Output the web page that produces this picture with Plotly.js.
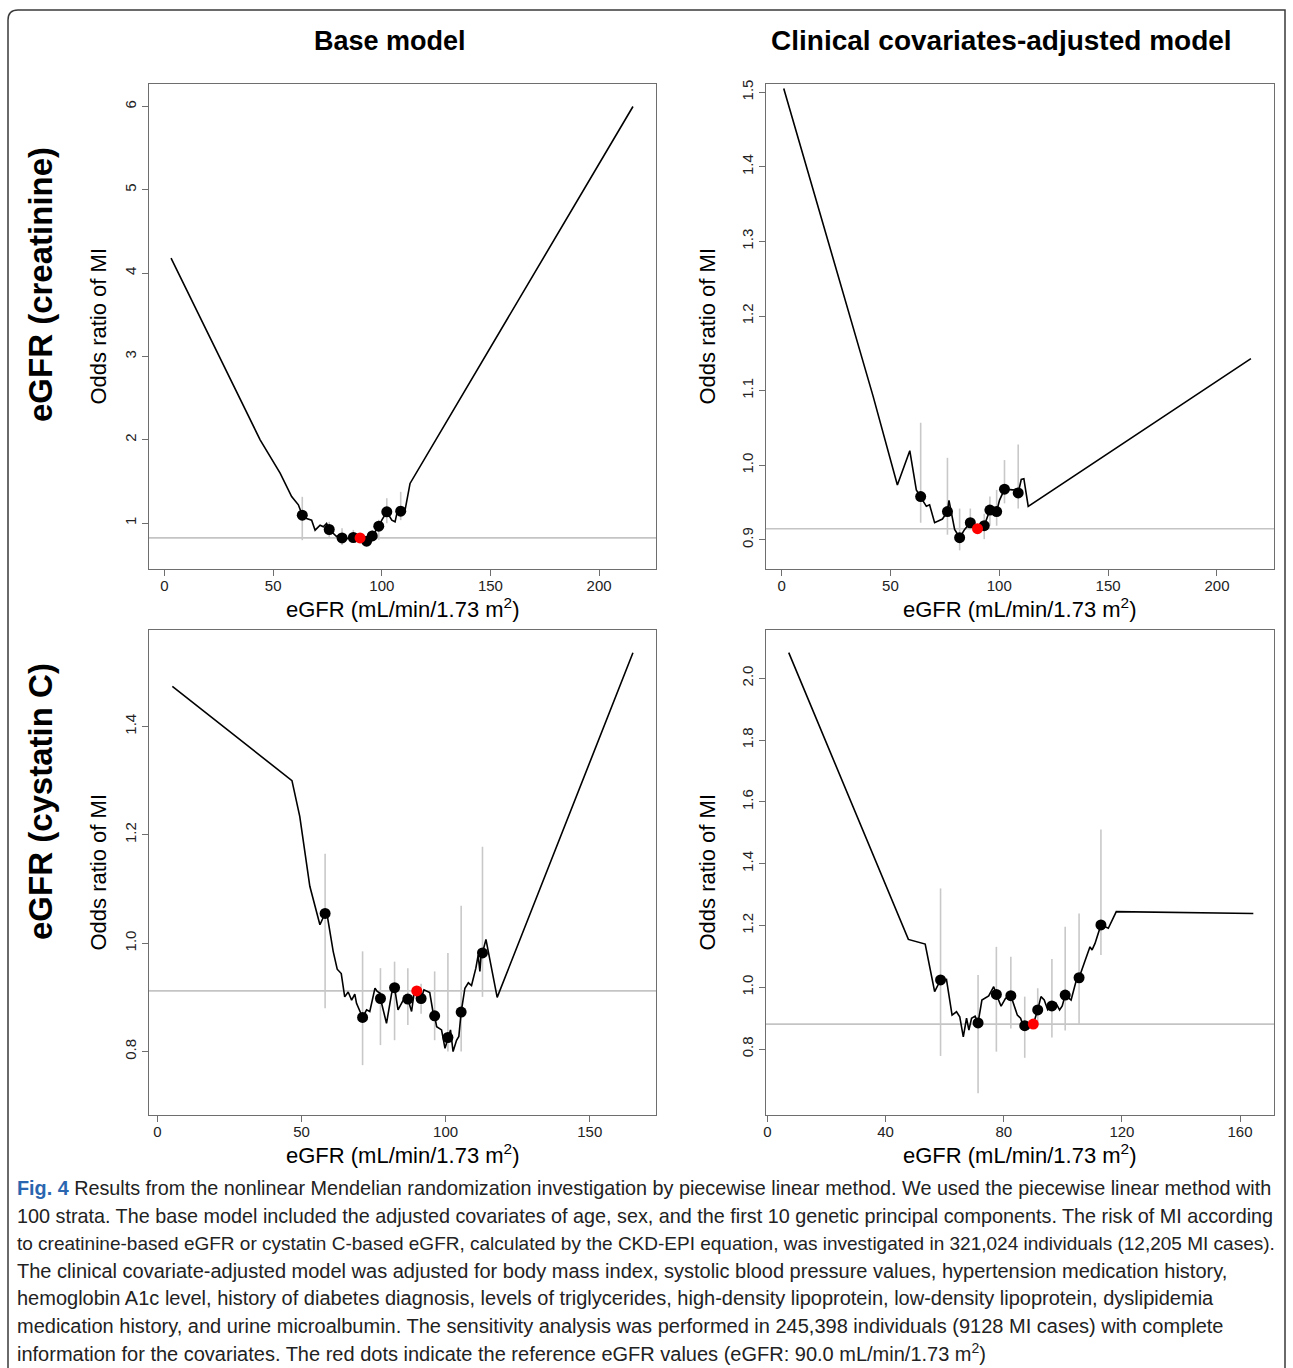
<!DOCTYPE html>
<html>
<head>
<meta charset="utf-8">
<script src="https://cdn.plot.ly/plotly-3.0.1.min.js"></script>
<style>
html,body{margin:0;padding:0;background:#fff;}
#chart{width:1293px;height:1368px;}
</style>
</head>
<body>
<div id="chart"></div>
<script>
// ---------- DATA ----------
// Top-left: creatinine eGFR, base model
const crBaseCurveX = [3.0, 44.0, 53.2, 58.5, 61.6, 63.4, 65.4, 67.7, 69.3, 71.6, 73.1, 74.6, 75.8, 79.2, 80.8, 81.7, 83.8, 86.9, 90.0, 91.5, 93.0, 95.6, 98.6, 100.0, 102.3, 104.6, 106.1, 107.6, 108.7, 110.7, 113.0, 215.6];
const crBaseCurveY = [4.18, 2.0, 1.60, 1.32, 1.22, 1.096, 1.056, 1.036, 0.916, 0.976, 0.956, 0.996, 0.924, 0.84, 0.86, 0.823, 0.815, 0.828, 0.823, 0.80, 0.784, 0.847, 0.964, 1.036, 1.136, 1.036, 1.016, 1.196, 1.144, 1.156, 1.477, 6.0];
const crBaseDotX = [63.4, 75.8, 81.7, 86.9, 93.0, 95.6, 98.6, 102.3, 108.7];
const crBaseDotY = [1.096, 0.924, 0.823, 0.828, 0.784, 0.847, 0.964, 1.136, 1.144];
const crBaseLo   = [0.796, 0.835, 0.739, 0.80, 0.727, 0.80, 0.80, 1.0, 1.036];
const crBaseHi   = [1.316, 1.016, 0.94, 0.919, 0.839, 0.919, 1.04, 1.30, 1.376];
const crBaseRef  = [90.0, 0.823];

// Top-right: creatinine eGFR, clinical covariates-adjusted
const crAdjCurveX = [1.0, 42.0, 53.2, 58.9, 61.9, 63.9, 66.5, 68.0, 70.3, 73.9, 76.2, 76.9, 79.5, 81.8, 84.1, 86.7, 90.0, 93.1, 95.2, 95.7, 98.8, 100.1, 102.4, 106.2, 107.8, 108.7, 110.1, 111.3, 113.3, 215.6];
const crAdjCurveY = [1.505, 1.093, 0.9735, 1.0195, 0.967, 0.958, 0.945, 0.947, 0.923, 0.928, 0.938, 0.953, 0.914, 0.903, 0.914, 0.923, 0.915, 0.919, 0.938, 0.940, 0.938, 0.953, 0.968, 0.967, 0.968, 0.963, 0.981, 0.982, 0.945, 1.143];
const crAdjDotX = [63.9, 76.2, 81.8, 86.7, 93.1, 95.7, 98.8, 102.4, 108.7];
const crAdjDotY = [0.958, 0.938, 0.903, 0.923, 0.919, 0.940, 0.938, 0.968, 0.963];
const crAdjLo   = [0.923, 0.907, 0.886, 0.916, 0.901, 0.919, 0.919, 0.949, 0.942];
const crAdjHi   = [1.057, 1.010, 0.942, 0.942, 0.935, 0.958, 0.967, 1.007, 1.028];
const crAdjRef  = [90.0, 0.915];

// Bottom-left: cystatin C eGFR, base model
const cyBaseCurveX = [5.2, 46.7, 49.4, 52.9, 56.4, 58.2, 59.0, 61.0, 62.4, 63.8, 65.0, 66.2, 67.4, 68.5, 69.1, 70.2, 71.2, 72.6, 73.7, 75.5, 76.3, 77.2, 77.4, 79.5, 81.3, 82.3, 83.5, 85.3, 86.9, 88.2, 89.0, 90.0, 91.5, 92.5, 94.5, 95.7, 96.2, 96.9, 98.6, 99.8, 100.8, 101.7, 102.6, 103.8, 104.6, 105.4, 106.7, 107.9, 109.0, 110.5, 111.3, 111.9, 112.5, 112.8, 114.0, 117.9, 165.0];
const cyBaseCurveY = [1.474, 1.300, 1.234, 1.105, 1.034, 1.055, 1.049, 0.985, 0.952, 0.944, 0.901, 0.910, 0.895, 0.906, 0.889, 0.874, 0.863, 0.877, 0.874, 0.917, 0.911, 0.908, 0.898, 0.852, 0.908, 0.918, 0.877, 0.895, 0.897, 0.874, 0.905, 0.913, 0.898, 0.914, 0.909, 0.871, 0.866, 0.846, 0.840, 0.806, 0.826, 0.840, 0.800, 0.821, 0.828, 0.873, 0.917, 0.927, 0.922, 0.954, 0.978, 0.948, 0.991, 0.982, 1.007, 0.900, 1.536];
const cyBaseDotX = [58.2, 71.2, 77.4, 82.3, 86.9, 91.5, 96.2, 100.8, 105.4, 112.8];
const cyBaseDotY = [1.055, 0.863, 0.898, 0.918, 0.897, 0.898, 0.866, 0.826, 0.873, 0.982];
const cyBaseLo   = [0.880, 0.775, 0.812, 0.821, 0.849, 0.870, 0.821, 0.800, 0.800, 0.901];
const cyBaseHi   = [1.165, 0.985, 0.954, 0.966, 0.954, 0.925, 0.948, 0.982, 1.069, 1.178];
const cyBaseRef  = [90.0, 0.912];

// Bottom-right: cystatin C eGFR, clinical covariates-adjusted
const cyAdjCurveX = [7.2, 47.7, 53.4, 56.6, 58.6, 60.6, 62.5, 64.0, 65.1, 66.3, 67.4, 68.2, 69.1, 70.3, 71.3, 72.6, 74.9, 76.6, 77.5, 79.1, 80.6, 82.4, 84.6, 85.7, 86.5, 87.1, 88.3, 90.0, 91.5, 92.6, 93.7, 94.9, 96.3, 97.7, 98.9, 99.8, 100.8, 102.8, 104.6, 105.5, 107.4, 109.2, 109.9, 110.9, 112.9, 115.4, 118.1, 154.9, 164.5];
const cyAdjCurveY = [2.083, 1.155, 1.140, 0.986, 1.024, 1.026, 0.910, 0.921, 0.905, 0.840, 0.900, 0.862, 0.900, 0.907, 0.885, 0.959, 0.972, 1.002, 0.977, 0.939, 0.964, 0.973, 0.910, 0.900, 0.878, 0.876, 0.867, 0.881, 0.927, 0.970, 0.959, 0.927, 0.940, 0.948, 0.927, 0.940, 0.975, 0.959, 1.024, 1.031, 1.083, 1.131, 1.121, 1.142, 1.202, 1.191, 1.245, 1.240, 1.239];
const cyAdjDotX = [58.6, 71.3, 77.5, 82.4, 87.1, 91.5, 96.3, 100.8, 105.5, 112.9];
const cyAdjDotY = [1.024, 0.885, 0.977, 0.973, 0.876, 0.927, 0.940, 0.975, 1.031, 1.202];
const cyAdjLo   = [0.778, 0.657, 0.792, 0.867, 0.772, 0.878, 0.838, 0.860, 0.881, 1.105];
const cyAdjHi   = [1.320, 1.040, 1.131, 1.099, 0.970, 0.997, 1.092, 1.196, 1.239, 1.511];
const cyAdjRef  = [90.0, 0.881];

// Tick values / labels
const xTicksTop = [0, 50, 100, 150, 200];
const xTicksBL  = [0, 50, 100, 150];
const xTicksBR  = [0, 40, 80, 120, 160];
const yTicksTL  = [1, 2, 3, 4, 5, 6];
const yTextTL   = ['1', '2', '3', '4', '5', '6'];
const yTicksTR  = [0.9, 1.0, 1.1, 1.2, 1.3, 1.4, 1.5];
const yTextTR   = ['0.9', '1.0', '1.1', '1.2', '1.3', '1.4', '1.5'];
const yTicksBL  = [0.8, 1.0, 1.2, 1.4];
const yTextBL   = ['0.8', '1.0', '1.2', '1.4'];
const yTicksBR  = [0.8, 1.0, 1.2, 1.4, 1.6, 1.8, 2.0];
const yTextBR   = ['0.8', '1.0', '1.2', '1.4', '1.6', '1.8', '2.0'];

const colTitles = ['Base model', 'Clinical covariates-adjusted model'];
const rowTitles = ['eGFR (creatinine)', 'eGFR (cystatin C)'];
const xTitle = 'eGFR (mL/min/1.73 m<sup>2</sup>)';
const yTitle = 'Odds ratio of MI';
const captionLines = [
  '<b><span style="color:#2a66b0">Fig. 4</span></b> Results from the nonlinear Mendelian randomization investigation by piecewise linear method. We used the piecewise linear method with',
  '100 strata. The base model included the adjusted covariates of age, sex, and the first 10 genetic principal components. The risk of MI according',
  'to creatinine-based eGFR or cystatin C-based eGFR, calculated by the CKD-EPI equation, was investigated in 321,024 individuals (12,205 MI cases).',
  'The clinical covariate-adjusted model was adjusted for body mass index, systolic blood pressure values, hypertension medication history,',
  'hemoglobin A1c level, history of diabetes diagnosis, levels of triglycerides, high-density lipoprotein, low-density lipoprotein, dyslipidemia',
  'medication history, and urine microalbumin. The sensitivity analysis was performed in 245,398 individuals (9128 MI cases) with complete',
  'information for the covariates. The red dots indicate the reference eGFR values (eGFR: 90.0 mL/min/1.73 m<sup>2</sup>)'
];

// ---------- LAYOUT HELPERS ----------
const W = 1293, H = 1368;
const px = v => v / W;
const py = v => 1 - v / H;
const FONT = '"Liberation Sans", Arial, Helvetica, sans-serif';

const panels = [
  {xa:'x',  ya:'y',  cx:crBaseCurveX, cy:crBaseCurveY, dx:crBaseDotX, dy:crBaseDotY, lo:crBaseLo, hi:crBaseHi, ref:crBaseRef,
   box:[149,84,656,569], xr:[-7.15,226.2], yr:[0.45,6.27], xt:xTicksTop, yt:yTicksTL, ytt:yTextTL},
  {xa:'x2', ya:'y2', cx:crAdjCurveX, cy:crAdjCurveY, dx:crAdjDotX, dy:crAdjDotY, lo:crAdjLo, hi:crAdjHi, ref:crAdjRef,
   box:[766,84,1274,569], xr:[-7.15,226.2], yr:[0.861,1.511], xt:xTicksTop, yt:yTicksTR, ytt:yTextTR},
  {xa:'x3', ya:'y3', cx:cyBaseCurveX, cy:cyBaseCurveY, dx:cyBaseDotX, dy:cyBaseDotY, lo:cyBaseLo, hi:cyBaseHi, ref:cyBaseRef,
   box:[149,630,656,1115], xr:[-2.9,173.0], yr:[0.683,1.578], xt:xTicksBL, yt:yTicksBL, ytt:yTextBL},
  {xa:'x4', ya:'y4', cx:cyAdjCurveX, cy:cyAdjCurveY, dx:cyAdjDotX, dy:cyAdjDotY, lo:cyAdjLo, hi:cyAdjHi, ref:cyAdjRef,
   box:[766,630,1274,1115], xr:[-0.5,171.5], yr:[0.587,2.156], xt:xTicksBR, yt:yTicksBR, ytt:yTextBR}
];

const traces = [];
const shapes = [];
const annotations = [];
const layout = {
  width: W, height: H,
  margin: {l:0, r:0, t:0, b:0},
  paper_bgcolor: '#fff', plot_bgcolor: '#fff',
  showlegend: false,
  font: {family: FONT, color: '#000'},
  shapes: shapes, annotations: annotations
};

const axisBase = {
  showline: true, linecolor: '#6e6e6e', linewidth: 1, mirror: true,
  ticks: 'outside', ticklen: 6, tickcolor: '#6e6e6e', tickwidth: 1,
  showgrid: false, zeroline: false, fixedrange: true,
  tickfont: {family: FONT, size: 15, color: '#222'}
};

panels.forEach((p, i) => {
  const n = i === 0 ? '' : String(i + 1);
  const [l, t, r, b] = p.box;
  layout['xaxis' + n] = Object.assign({}, axisBase, {
    domain: [px(l), px(r)], range: p.xr, anchor: p.ya, ticklabelstandoff: -3,
    tickmode: 'array', tickvals: p.xt, ticktext: p.xt.map(String)
  });
  layout['yaxis' + n] = Object.assign({}, axisBase, {
    domain: [py(b), py(t)], range: p.yr, anchor: p.xa,
    tickmode: 'array', tickvals: p.yt, ticktext: p.ytt, tickangle: -90
  });
  // reference horizontal line
  shapes.push({type:'line', xref: p.xa + ' domain', yref: p.ya, x0: 0, x1: 1,
    y0: p.ref[1], y1: p.ref[1], line: {color: '#c4c4c4', width: 1.6}, layer: 'below'});
  // CI bars
  traces.push({type:'scatter', mode:'markers', xaxis:p.xa, yaxis:p.ya, x:p.dx, y:p.dy,
    marker:{size:1, color:'rgba(0,0,0,0)'}, hoverinfo:'skip',
    error_y:{type:'data', symmetric:false,
      array: p.hi.map((h, k) => h - p.dy[k]),
      arrayminus: p.lo.map((v, k) => p.dy[k] - v),
      color:'#c8c8c8', thickness:1.6, width:0}});
  // curve
  traces.push({type:'scatter', mode:'lines', xaxis:p.xa, yaxis:p.ya, x:p.cx, y:p.cy,
    line:{color:'#000', width:1.6}, hoverinfo:'skip'});
  // strata dots
  traces.push({type:'scatter', mode:'markers', xaxis:p.xa, yaxis:p.ya, x:p.dx, y:p.dy,
    marker:{size:11, color:'#000'}, hoverinfo:'skip'});
  // reference dot
  traces.push({type:'scatter', mode:'markers', xaxis:p.xa, yaxis:p.ya, x:[p.ref[0]], y:[p.ref[1]],
    marker:{size:11, color:'#ff0000'}, hoverinfo:'skip'});

  // axis titles
  const xTitleY = i < 2 ? 608 : 1154;
  annotations.push({xref:'paper', yref:'paper', x: px((l + r) / 2), y: py(xTitleY),
    text: xTitle, showarrow:false, xanchor:'center', yanchor:'middle',
    font:{family:FONT, size:22, color:'#000'}});
  const yTitleX = (i % 2 === 0) ? 98 : 707;
  annotations.push({xref:'paper', yref:'paper', x: px(yTitleX), y: py((t + b) / 2),
    text: yTitle, showarrow:false, xanchor:'center', yanchor:'middle', textangle:-90,
    font:{family:FONT, size:22, color:'#000'}});
});

// column titles
annotations.push({xref:'paper', yref:'paper', x:px(390), y:py(41), text:'<b>' + colTitles[0] + '</b>',
  showarrow:false, xanchor:'center', yanchor:'middle', font:{family:FONT, size:27, color:'#000'}});
annotations.push({xref:'paper', yref:'paper', x:px(1001), y:py(41), text:'<b>' + colTitles[1] + '</b>',
  showarrow:false, xanchor:'center', yanchor:'middle', font:{family:FONT, size:28, color:'#000'}});
// row titles
annotations.push({xref:'paper', yref:'paper', x:px(40), y:py(285), text:'<b>' + rowTitles[0] + '</b>',
  showarrow:false, xanchor:'center', yanchor:'middle', textangle:-90, font:{family:FONT, size:33, color:'#000'}});
annotations.push({xref:'paper', yref:'paper', x:px(40), y:py(802), text:'<b>' + rowTitles[1] + '</b>',
  showarrow:false, xanchor:'center', yanchor:'middle', textangle:-90, font:{family:FONT, size:33, color:'#000'}});

// caption
const capY = [1188, 1215.5, 1243, 1270.5, 1298, 1325.5, 1352];
const capSize = [19.8, 19.8, 19.0, 20, 20, 20, 20];
captionLines.forEach((txt, k) => {
  annotations.push({xref:'paper', yref:'paper', x:px(15), y:py(capY[k]), text:txt,
    showarrow:false, xanchor:'left', yanchor:'middle', align:'left',
    font:{family:FONT, size:capSize[k], color:'#222'}});
});

// outer frame with rounded top-left corner
shapes.push({type:'path', xref:'paper', yref:'paper', layer:'above',
  path: 'M ' + px(1285) + ' ' + py(1368) + ' L ' + px(1285) + ' ' + py(10) +
        ' L ' + px(18) + ' ' + py(10) + ' Q ' + px(8) + ' ' + py(10) + ' ' + px(8) + ' ' + py(20) +
        ' L ' + px(8) + ' ' + py(1368),
  line:{color:'#3a3a3a', width:1.5}});

Plotly.newPlot('chart', traces, layout, {staticPlot:true, displayModeBar:false});
</script>
</body>
</html>
